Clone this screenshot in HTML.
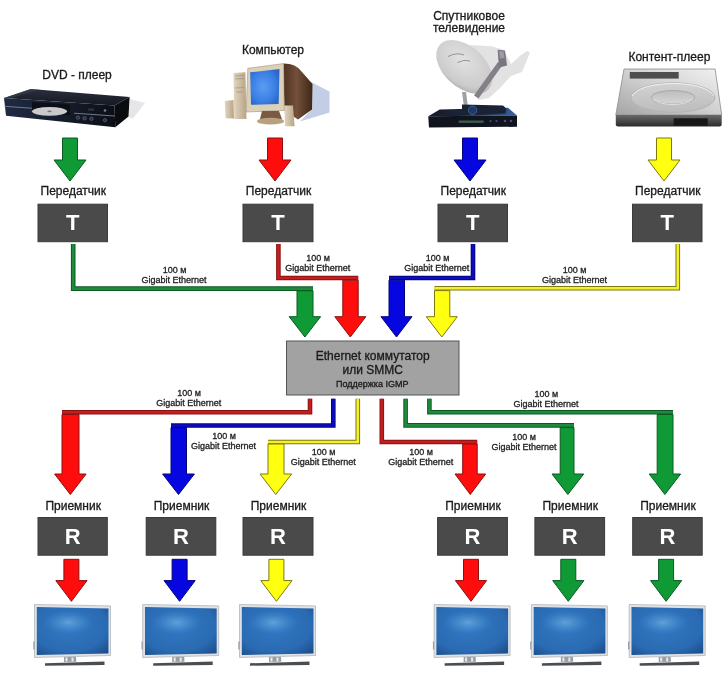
<!DOCTYPE html>
<html><head><meta charset="utf-8"><style>
html,body{margin:0;padding:0;background:#fff;width:725px;height:680px;overflow:hidden}
svg{display:block;font-family:"Liberation Sans", sans-serif;will-change:transform}
</style></head><body>
<svg width="725" height="680" viewBox="0 0 725 680">
<defs>
<radialGradient id="scr" cx="0.45" cy="0.4" r="0.75"><stop offset="0" stop-color="#3179c2"/><stop offset="0.7" stop-color="#2a6bb3"/><stop offset="1" stop-color="#1d4f8c"/></radialGradient>
<radialGradient id="hl"><stop offset="0" stop-color="#6eaae0" stop-opacity="0.8"/><stop offset="0.55" stop-color="#5296d4" stop-opacity="0.45"/><stop offset="1" stop-color="#3a86d0" stop-opacity="0"/></radialGradient>
</defs>
<rect width="725" height="680" fill="#fff"/>
<defs>
<linearGradient id="dvdTop" x1="0" y1="0" x2="0" y2="1"><stop offset="0" stop-color="#2a2f3c"/><stop offset="1" stop-color="#151821"/></linearGradient>
<linearGradient id="dvdFront" x1="0" y1="0" x2="1" y2="0"><stop offset="0" stop-color="#1f2a44"/><stop offset="0.6" stop-color="#141a28"/><stop offset="1" stop-color="#0c0f16"/></linearGradient>
<radialGradient id="scrC" cx="0.45" cy="0.5" r="0.6"><stop offset="0" stop-color="#5c9cf2"/><stop offset="0.7" stop-color="#3a7ee4"/><stop offset="1" stop-color="#2c68cc"/></radialGradient>
<linearGradient id="monBack" x1="0" y1="0" x2="1" y2="0"><stop offset="0" stop-color="#4e3220"/><stop offset="0.45" stop-color="#74503a"/><stop offset="1" stop-color="#3e2818"/></linearGradient>
<linearGradient id="beige" x1="0" y1="0" x2="1" y2="0"><stop offset="0" stop-color="#e2d6c0"/><stop offset="1" stop-color="#b8a486"/></linearGradient>
<radialGradient id="dishG" cx="0.4" cy="0.4" r="0.7"><stop offset="0" stop-color="#e2e2e2"/><stop offset="0.75" stop-color="#cbcbcb"/><stop offset="1" stop-color="#a8a8a8"/></radialGradient>
<linearGradient id="rcvTop" x1="0" y1="0" x2="1" y2="0"><stop offset="0" stop-color="#161b28"/><stop offset="0.6" stop-color="#1e2a44"/><stop offset="1" stop-color="#3a68a8"/></linearGradient>
<linearGradient id="hddTop" x1="1" y1="0" x2="0" y2="1"><stop offset="0" stop-color="#f2f2f2"/><stop offset="0.5" stop-color="#cfcfcf"/><stop offset="1" stop-color="#a4a4a4"/></linearGradient>
<linearGradient id="hddFront" x1="0" y1="0" x2="0" y2="1"><stop offset="0" stop-color="#6a6a6a"/><stop offset="1" stop-color="#2a2a2a"/></linearGradient>
<linearGradient id="platO" x1="0" y1="0" x2="0" y2="1"><stop offset="0" stop-color="#d2d2d2"/><stop offset="1" stop-color="#bcbcbc"/></linearGradient>
<linearGradient id="platI" x1="0" y1="0" x2="0" y2="1"><stop offset="0" stop-color="#bdbdbd"/><stop offset="1" stop-color="#d6d6d6"/></linearGradient>
</defs>
<!-- DVD player -->
<g>
<path d="M129.6,99 L145,103 L133,118.5 L128.5,117 Z" fill="#e6e6e8"/>
<path d="M4,97.9 L30.8,89 L129.6,96.9 L114.5,105.5 Z" fill="url(#dvdTop)"/>
<path d="M4,97.9 L30.8,89 L40,89.7 L10,98.3 Z" fill="#3a4050" opacity="0.6"/>
<path d="M4,97.9 L114.5,105.5 L115.3,127.2 L6,115.8 Z" fill="url(#dvdFront)"/>
<path d="M114.5,105.5 L129.6,96.9 L128.5,116.5 L115.3,127.2 Z" fill="#0b0c10"/>
<path d="M4.5,106.3 L33,108.3" stroke="#7a8294" stroke-width="0.9"/>
<path d="M74,113.2 L114.8,116" stroke="#8a92a4" stroke-width="0.8"/>
<path d="M32,102 L70,104.6 L70,115.5 L32,113 Z" fill="#0c0f16"/>
<ellipse cx="49.5" cy="111.3" rx="17.5" ry="4.4" fill="#cacacc"/>
<ellipse cx="49.5" cy="111.3" rx="2.2" ry="0.9" fill="#7a7a7a"/>
<circle cx="78" cy="117.6" r="1.7" fill="#2a2f3a" stroke="#6a7282" stroke-width="0.6"/>
<circle cx="84.5" cy="118.3" r="1.7" fill="#2a2f3a" stroke="#6a7282" stroke-width="0.6"/>
<circle cx="91.5" cy="118.8" r="1.7" fill="#2a2f3a" stroke="#6a7282" stroke-width="0.6"/>
<circle cx="105" cy="120.2" r="1.7" fill="#2a2f3a" stroke="#6a7282" stroke-width="0.6"/>
<circle cx="105" cy="110.5" r="1.3" fill="#7a808a"/>
<rect x="88" y="108.5" width="6" height="2.2" fill="#2e3440"/>
</g>
<!-- Computer -->
<g>
<path d="M311,82 L329.5,91.5 L329.5,112.5 L300,121.5 L311,110 Z" fill="#c4cde6"/>
<path d="M283.5,63.6 Q296,63.5 302,72 L312.5,84 L312,109.5 L298,119.5 L284.3,110.4 Z" fill="url(#monBack)"/>
<path d="M247.8,68.3 L283.5,63.6 L284.3,110.4 L246.2,112 Z" fill="#dbd0b8" stroke="#a89478" stroke-width="0.6"/>
<path d="M250.2,72.3 L279.5,69.1 L278.7,104 L251,104.8 Z" fill="url(#scrC)"/>
<path d="M233.5,73 L245.4,72.3 L246.5,119 L234.3,119 Z" fill="url(#beige)"/>
<path d="M235,76 L244,75.5 M235,79 L244,78.5 M235,88 L244,87.5 M236,92 L243,92" stroke="#9a8a70" stroke-width="0.6"/>
<path d="M262,111 L279,111 L282,119 L260,119 Z" fill="#7a5a40"/>
<ellipse cx="270.5" cy="121.2" rx="13.5" ry="3.4" fill="#b8a080"/>
<path d="M224.8,100.9 L233.5,100 L234,118.5 L225.5,118.3 Z" fill="url(#beige)"/>
<path d="M284.3,105.6 L293,105.6 L294.6,126.3 L285,126.3 Z" fill="url(#beige)"/>
</g>
<!-- Satellite -->
<g>
<path d="M470,45 L492,46.3 L504,50 L511,64 L521,55 L527,51 L530,52.5 L527,60 L522,72 L511,76 L500,88 L489,98 L478,100 Z" fill="#e2e2e2"/>
<path d="M462,92 L466,92 L468,107 L464,107 Z" fill="#a0a0a0"/>
<ellipse cx="464.3" cy="66.8" rx="33" ry="20.5" transform="rotate(42 464.3 66.8)" fill="url(#dishG)"/>
<path d="M448,56.5 Q457,52 464,55" stroke="#8a8a8a" stroke-width="0.9" fill="none"/>
<path d="M457.5,62.5 Q464,59 470,61" stroke="#8a8a8a" stroke-width="0.9" fill="none"/>
<path d="M474,95.5 L498,62 L502.5,65 L478.5,98.5 Z" fill="#858088"/>
<path d="M497.6,49.7 L505,50.6 L507,65.6 L499,67.6 Z" fill="#7a7580"/>
<path d="M499,51 L503.5,51.6 L504.5,58 L500,58.5 Z" fill="#a09aa6"/>
<path d="M439.7,109.4 L508,107.8 L517,115.4 L428.3,116.2 Z" fill="url(#rcvTop)"/>
<path d="M428.3,116.2 L517,115.4 L517,126.8 L429,127.6 Z" fill="#10141f"/>
<path d="M462,104.5 L503,105.5 Q508,108.5 505.5,113.5 L462,115 Z" fill="#1a2234"/>
<ellipse cx="472.6" cy="110.3" rx="4.2" ry="4.2" fill="#22385e" stroke="#3a6ab0" stroke-width="0.8"/>
<rect x="458.7" y="120.5" width="25" height="2.4" fill="#3e5a4a"/>
<circle cx="490.5" cy="121" r="1.1" fill="#4a5070"/><circle cx="496.5" cy="121" r="1.1" fill="#4a5070"/>
<circle cx="505" cy="121" r="1.3" fill="#4a5070"/><circle cx="511" cy="121" r="1.3" fill="#4a5070"/>
</g>
<!-- HDD -->
<g>
<path d="M624,69 L715.1,69 L721.7,115 L615.8,115 Z" fill="url(#hddTop)" stroke="#8c8c8c" stroke-width="0.8"/>
<path d="M615.8,115 L721.7,115 L721.7,124.5 Q721.7,126.6 719.5,126.6 L618,126.6 Q615.8,126.6 615.8,124.5 Z" fill="url(#hddFront)"/>
<rect x="673.7" y="118.3" width="34" height="7.4" fill="#181818"/>
<rect x="629.8" y="72" width="48.9" height="6.6" fill="#4e4e4e"/>
<ellipse cx="673" cy="97.6" rx="42" ry="14.8" fill="url(#platO)" stroke="#b4b4b4" stroke-width="1"/>
<path d="M632,96 Q640,84 673,83.5 Q706,84 714,96" fill="none" stroke="#f2f2f2" stroke-width="1"/>
<ellipse cx="673" cy="97.3" rx="21.5" ry="6.8" fill="url(#platI)" stroke="#a8a8a8" stroke-width="1"/>
<path d="M653,99 Q660,104.5 673,104.5 Q686,104.5 693,99" fill="none" stroke="#ececec" stroke-width="0.8"/>
</g>

<text x="73.25" y="195.2" font-size="12" font-weight="normal" fill="#1a1a1a" stroke="#1a1a1a" stroke-width="0.3" text-anchor="middle">Передатчик</text>
<rect x="38" y="204.2" width="69.5" height="37.5" fill="#4a4a4a" stroke="#3a3a3a" stroke-width="1"/>
<text x="72.75" y="230.39999999999998" font-size="22" font-weight="bold" fill="#ffffff" text-anchor="middle">T</text>
<path d="M62.5,138 L77.5,138 L77.5,160 L86,160 L70.0,181 L54,160 L62.5,160 Z" fill="#0f9a35" stroke="#0a5a22" stroke-width="1" stroke-linejoin="miter"/>
<text x="278.5" y="195.2" font-size="12" font-weight="normal" fill="#1a1a1a" stroke="#1a1a1a" stroke-width="0.3" text-anchor="middle">Передатчик</text>
<rect x="243" y="204.2" width="70" height="37.5" fill="#4a4a4a" stroke="#3a3a3a" stroke-width="1"/>
<text x="278.0" y="230.39999999999998" font-size="22" font-weight="bold" fill="#ffffff" text-anchor="middle">T</text>
<path d="M267.5,138 L282.5,138 L282.5,160 L291,160 L275.0,181 L259,160 L267.5,160 Z" fill="#ff0c0c" stroke="#8a1212" stroke-width="1" stroke-linejoin="miter"/>
<text x="473.25" y="195.2" font-size="12" font-weight="normal" fill="#1a1a1a" stroke="#1a1a1a" stroke-width="0.3" text-anchor="middle">Передатчик</text>
<rect x="438" y="204.2" width="69.5" height="37.5" fill="#4a4a4a" stroke="#3a3a3a" stroke-width="1"/>
<text x="472.75" y="230.39999999999998" font-size="22" font-weight="bold" fill="#ffffff" text-anchor="middle">T</text>
<path d="M462.5,138 L477.5,138 L477.5,160 L486,160 L470.0,181 L454,160 L462.5,160 Z" fill="#0606e0" stroke="#05057a" stroke-width="1" stroke-linejoin="miter"/>
<text x="667.75" y="195.2" font-size="12" font-weight="normal" fill="#1a1a1a" stroke="#1a1a1a" stroke-width="0.3" text-anchor="middle">Передатчик</text>
<rect x="632.5" y="204.2" width="69.5" height="37.5" fill="#4a4a4a" stroke="#3a3a3a" stroke-width="1"/>
<text x="667.25" y="230.39999999999998" font-size="22" font-weight="bold" fill="#ffffff" text-anchor="middle">T</text>
<path d="M656.5,138 L671.5,138 L671.5,160 L680,160 L664.0,181 L648,160 L656.5,160 Z" fill="#ffff10" stroke="#7c7a10" stroke-width="1" stroke-linejoin="miter"/>
<path d="M73.2,244 L73.2,288.6 L313,288.6" fill="none" stroke="#0a5a22" stroke-width="4.6" stroke-linejoin="miter" stroke-linecap="butt"/>
<path d="M73.2,244 L73.2,288.6 L313,288.6" fill="none" stroke="#1f8a3c" stroke-width="2.5999999999999996" stroke-linejoin="miter" stroke-linecap="butt"/>
<path d="M278.4,244 L278.4,278 L358.2,278" fill="none" stroke="#8a1212" stroke-width="4.6" stroke-linejoin="miter" stroke-linecap="butt"/>
<path d="M278.4,244 L278.4,278 L358.2,278" fill="none" stroke="#c41e1e" stroke-width="2.5999999999999996" stroke-linejoin="miter" stroke-linecap="butt"/>
<path d="M473,244 L473,278 L389,278" fill="none" stroke="#05057a" stroke-width="4.6" stroke-linejoin="miter" stroke-linecap="butt"/>
<path d="M473,244 L473,278 L389,278" fill="none" stroke="#0c0cc0" stroke-width="2.5999999999999996" stroke-linejoin="miter" stroke-linecap="butt"/>
<path d="M677.8,244 L677.8,288.3 L434.5,288.3" fill="none" stroke="#7c7a10" stroke-width="4.6" stroke-linejoin="miter" stroke-linecap="butt"/>
<path d="M677.8,244 L677.8,288.3 L434.5,288.3" fill="none" stroke="#f4f030" stroke-width="2.5999999999999996" stroke-linejoin="miter" stroke-linecap="butt"/>
<path d="M297,290.8 L313,290.8 L313,316.7 L320.6,316.7 L304.9,337 L289.2,316.7 L297,316.7 Z" fill="#0f9a35" stroke="#0a5a22" stroke-width="1" stroke-linejoin="miter"/>
<path d="M342.8,280.2 L358.2,280.2 L358.2,316.7 L365.8,316.7 L350.3,337 L334.8,316.7 L342.8,316.7 Z" fill="#ff0c0c" stroke="#8a1212" stroke-width="1" stroke-linejoin="miter"/>
<path d="M389,280.2 L404.5,280.2 L404.5,316.7 L412,316.7 L396.5,337 L381,316.7 L389,316.7 Z" fill="#0606e0" stroke="#05057a" stroke-width="1" stroke-linejoin="miter"/>
<path d="M434.5,290.6 L449.8,290.6 L449.8,316.7 L457.3,316.7 L441.8,337 L426.3,316.7 L434.5,316.7 Z" fill="#ffff10" stroke="#7c7a10" stroke-width="1" stroke-linejoin="miter"/>
<text x="174.5" y="273" font-size="9" font-weight="normal" fill="#222" stroke="#222" stroke-width="0.3" text-anchor="middle">100 м</text>
<text x="174" y="283" font-size="9" font-weight="normal" fill="#222" stroke="#222" stroke-width="0.3" text-anchor="middle">Gigabit Ethernet</text>
<text x="318" y="260.5" font-size="9" font-weight="normal" fill="#222" stroke="#222" stroke-width="0.3" text-anchor="middle">100 м</text>
<text x="317.7" y="270.5" font-size="9" font-weight="normal" fill="#222" stroke="#222" stroke-width="0.3" text-anchor="middle">Gigabit Ethernet</text>
<text x="437.5" y="260.5" font-size="9" font-weight="normal" fill="#222" stroke="#222" stroke-width="0.3" text-anchor="middle">100 м</text>
<text x="436.7" y="270.5" font-size="9" font-weight="normal" fill="#222" stroke="#222" stroke-width="0.3" text-anchor="middle">Gigabit Ethernet</text>
<text x="574.6" y="273" font-size="9" font-weight="normal" fill="#222" stroke="#222" stroke-width="0.3" text-anchor="middle">100 м</text>
<text x="574.6" y="283" font-size="9" font-weight="normal" fill="#222" stroke="#222" stroke-width="0.3" text-anchor="middle">Gigabit Ethernet</text>
<rect x="286.5" y="341" width="172.5" height="54" fill="#a2a2a2" stroke="#555" stroke-width="1"/>
<text x="372.7" y="360" font-size="12" font-weight="normal" fill="#1a1a1a" stroke="#1a1a1a" stroke-width="0.3" text-anchor="middle">Ethernet коммутатор</text>
<text x="372.7" y="373.5" font-size="12" font-weight="normal" fill="#1a1a1a" stroke="#1a1a1a" stroke-width="0.3" text-anchor="middle">или SMMC</text>
<text x="372.2" y="386.8" font-size="9" font-weight="normal" fill="#1a1a1a" stroke="#1a1a1a" stroke-width="0.3" text-anchor="middle">Поддержка IGMP</text>
<path d="M310,398.7 L310,412.3 L62,412.3" fill="none" stroke="#8a1212" stroke-width="4.6" stroke-linejoin="miter" stroke-linecap="butt"/>
<path d="M310,398.7 L310,412.3 L62,412.3" fill="none" stroke="#c41e1e" stroke-width="2.5999999999999996" stroke-linejoin="miter" stroke-linecap="butt"/>
<path d="M333.3,398.7 L333.3,425.5 L171,425.5" fill="none" stroke="#05057a" stroke-width="4.6" stroke-linejoin="miter" stroke-linecap="butt"/>
<path d="M333.3,398.7 L333.3,425.5 L171,425.5" fill="none" stroke="#0c0cc0" stroke-width="2.5999999999999996" stroke-linejoin="miter" stroke-linecap="butt"/>
<path d="M357.8,398.7 L357.8,442 L268,442" fill="none" stroke="#7c7a10" stroke-width="4.6" stroke-linejoin="miter" stroke-linecap="butt"/>
<path d="M357.8,398.7 L357.8,442 L268,442" fill="none" stroke="#f4f030" stroke-width="2.5999999999999996" stroke-linejoin="miter" stroke-linecap="butt"/>
<path d="M381.8,398.7 L381.8,442 L477.2,442" fill="none" stroke="#8a1212" stroke-width="4.6" stroke-linejoin="miter" stroke-linecap="butt"/>
<path d="M381.8,398.7 L381.8,442 L477.2,442" fill="none" stroke="#c41e1e" stroke-width="2.5999999999999996" stroke-linejoin="miter" stroke-linecap="butt"/>
<path d="M405.6,398.7 L405.6,425.4 L574,425.4" fill="none" stroke="#0a5a22" stroke-width="4.6" stroke-linejoin="miter" stroke-linecap="butt"/>
<path d="M405.6,398.7 L405.6,425.4 L574,425.4" fill="none" stroke="#1f8a3c" stroke-width="2.5999999999999996" stroke-linejoin="miter" stroke-linecap="butt"/>
<path d="M429.4,398.7 L429.4,412.3 L673,412.3" fill="none" stroke="#0a5a22" stroke-width="4.6" stroke-linejoin="miter" stroke-linecap="butt"/>
<path d="M429.4,398.7 L429.4,412.3 L673,412.3" fill="none" stroke="#1f8a3c" stroke-width="2.5999999999999996" stroke-linejoin="miter" stroke-linecap="butt"/>
<path d="M62,414.5 L79,414.5 L79,474 L86.1,474 L70.35,494.5 L54.6,474 L62,474 Z" fill="#ff0c0c" stroke="#8a1212" stroke-width="1" stroke-linejoin="miter"/>
<path d="M171,427.6 L186.5,427.6 L186.5,474 L194.4,474 L178.5,494.5 L162.6,474 L171,474 Z" fill="#0606e0" stroke="#05057a" stroke-width="1" stroke-linejoin="miter"/>
<path d="M268,444 L284,444 L284,474 L291.6,474 L275.8,494.5 L260,474 L268,474 Z" fill="#ffff10" stroke="#7c7a10" stroke-width="1" stroke-linejoin="miter"/>
<path d="M462.7,444 L477.2,444 L477.2,474 L485.6,474 L470.3,494.5 L455,474 L462.7,474 Z" fill="#ff0c0c" stroke="#8a1212" stroke-width="1" stroke-linejoin="miter"/>
<path d="M560.2,427.6 L574,427.6 L574,474 L583.7,474 L567.85,494.5 L552,474 L560.2,474 Z" fill="#0f9a35" stroke="#0a5a22" stroke-width="1" stroke-linejoin="miter"/>
<path d="M657.2,414.5 L673,414.5 L673,474 L680.6,474 L664.9000000000001,494.5 L649.2,474 L657.2,474 Z" fill="#0f9a35" stroke="#0a5a22" stroke-width="1" stroke-linejoin="miter"/>
<text x="189" y="395.5" font-size="9" font-weight="normal" fill="#222" stroke="#222" stroke-width="0.3" text-anchor="middle">100 м</text>
<text x="188.7" y="405.5" font-size="9" font-weight="normal" fill="#222" stroke="#222" stroke-width="0.3" text-anchor="middle">Gigabit Ethernet</text>
<text x="224" y="439.2" font-size="9" font-weight="normal" fill="#222" stroke="#222" stroke-width="0.3" text-anchor="middle">100 м</text>
<text x="223.4" y="449.2" font-size="9" font-weight="normal" fill="#222" stroke="#222" stroke-width="0.3" text-anchor="middle">Gigabit Ethernet</text>
<text x="323.7" y="455" font-size="9" font-weight="normal" fill="#222" stroke="#222" stroke-width="0.3" text-anchor="middle">100 м</text>
<text x="323.3" y="465" font-size="9" font-weight="normal" fill="#222" stroke="#222" stroke-width="0.3" text-anchor="middle">Gigabit Ethernet</text>
<text x="421.2" y="455" font-size="9" font-weight="normal" fill="#222" stroke="#222" stroke-width="0.3" text-anchor="middle">100 м</text>
<text x="420.7" y="465" font-size="9" font-weight="normal" fill="#222" stroke="#222" stroke-width="0.3" text-anchor="middle">Gigabit Ethernet</text>
<text x="524" y="440.3" font-size="9" font-weight="normal" fill="#222" stroke="#222" stroke-width="0.3" text-anchor="middle">100 м</text>
<text x="524" y="450.3" font-size="9" font-weight="normal" fill="#222" stroke="#222" stroke-width="0.3" text-anchor="middle">Gigabit Ethernet</text>
<text x="546.4" y="396.8" font-size="9" font-weight="normal" fill="#222" stroke="#222" stroke-width="0.3" text-anchor="middle">100 м</text>
<text x="546" y="406.8" font-size="9" font-weight="normal" fill="#222" stroke="#222" stroke-width="0.3" text-anchor="middle">Gigabit Ethernet</text>
<text x="73.15" y="509.8" font-size="12" font-weight="normal" fill="#1a1a1a" stroke="#1a1a1a" stroke-width="0.3" text-anchor="middle">Приемник</text>
<rect x="38" y="517.5" width="69.3" height="37.700000000000045" fill="#4a4a4a" stroke="#3a3a3a" stroke-width="1"/>
<text x="72.65" y="543.7" font-size="22" font-weight="bold" fill="#ffffff" text-anchor="middle">R</text>
<path d="M63.900000000000006,559.3 L78.9,559.3 L78.9,580.6 L87.0,580.6 L71.4,601.3 L55.800000000000004,580.6 L63.900000000000006,580.6 Z" fill="#ff0c0c" stroke="#8a1212" stroke-width="1" stroke-linejoin="miter"/>
<g transform="translate(34.5,604.5)"><path d="M0,0 L76,1.4 L76,51 L0,53 Z" fill="#dfe2e6" stroke="#a8adb3" stroke-width="0.7"/><path d="M2.3,2.4 L74,3.9 L74,48.9 L2.3,50.6 Z" fill="url(#scr)"/><ellipse cx="34" cy="18" rx="25" ry="12" fill="url(#hl)"/><rect x="-1.2" y="37" width="1.3" height="8" fill="#9aa0a6"/><path d="M29.5,52.6 L41.5,52.3 L41.8,57.2 L29.5,57.4 Z" fill="#9a9fa5"/><path d="M31,53 L33,53 L33,57 L31,57 Z M37,53 L39,53 L39,57 L37,57 Z" fill="#e8eaec"/><path d="M10.5,58.8 L70,57 L70,60.4 L10.5,61.2 Z" fill="#4a4e52"/></g>
<text x="181.5" y="509.8" font-size="12" font-weight="normal" fill="#1a1a1a" stroke="#1a1a1a" stroke-width="0.3" text-anchor="middle">Приемник</text>
<rect x="146.2" y="517.5" width="69.60000000000002" height="37.700000000000045" fill="#4a4a4a" stroke="#3a3a3a" stroke-width="1"/>
<text x="181.0" y="543.7" font-size="22" font-weight="bold" fill="#ffffff" text-anchor="middle">R</text>
<path d="M172.1,559.3 L187.1,559.3 L187.1,580.6 L195.2,580.6 L179.6,601.3 L164.0,580.6 L172.1,580.6 Z" fill="#0606e0" stroke="#05057a" stroke-width="1" stroke-linejoin="miter"/>
<g transform="translate(142.7,604.5)"><path d="M0,0 L76,1.4 L76,51 L0,53 Z" fill="#dfe2e6" stroke="#a8adb3" stroke-width="0.7"/><path d="M2.3,2.4 L74,3.9 L74,48.9 L2.3,50.6 Z" fill="url(#scr)"/><ellipse cx="34" cy="18" rx="25" ry="12" fill="url(#hl)"/><rect x="-1.2" y="37" width="1.3" height="8" fill="#9aa0a6"/><path d="M29.5,52.6 L41.5,52.3 L41.8,57.2 L29.5,57.4 Z" fill="#9a9fa5"/><path d="M31,53 L33,53 L33,57 L31,57 Z M37,53 L39,53 L39,57 L37,57 Z" fill="#e8eaec"/><path d="M10.5,58.8 L70,57 L70,60.4 L10.5,61.2 Z" fill="#4a4e52"/></g>
<text x="278.5" y="509.8" font-size="12" font-weight="normal" fill="#1a1a1a" stroke="#1a1a1a" stroke-width="0.3" text-anchor="middle">Приемник</text>
<rect x="243" y="517.5" width="70" height="37.700000000000045" fill="#4a4a4a" stroke="#3a3a3a" stroke-width="1"/>
<text x="278.0" y="543.7" font-size="22" font-weight="bold" fill="#ffffff" text-anchor="middle">R</text>
<path d="M268.9,559.3 L283.9,559.3 L283.9,580.6 L292.0,580.6 L276.4,601.3 L260.79999999999995,580.6 L268.9,580.6 Z" fill="#ffff10" stroke="#7c7a10" stroke-width="1" stroke-linejoin="miter"/>
<g transform="translate(239.5,604.5)"><path d="M0,0 L76,1.4 L76,51 L0,53 Z" fill="#dfe2e6" stroke="#a8adb3" stroke-width="0.7"/><path d="M2.3,2.4 L74,3.9 L74,48.9 L2.3,50.6 Z" fill="url(#scr)"/><ellipse cx="34" cy="18" rx="25" ry="12" fill="url(#hl)"/><rect x="-1.2" y="37" width="1.3" height="8" fill="#9aa0a6"/><path d="M29.5,52.6 L41.5,52.3 L41.8,57.2 L29.5,57.4 Z" fill="#9a9fa5"/><path d="M31,53 L33,53 L33,57 L31,57 Z M37,53 L39,53 L39,57 L37,57 Z" fill="#e8eaec"/><path d="M10.5,58.8 L70,57 L70,60.4 L10.5,61.2 Z" fill="#4a4e52"/></g>
<text x="473.0" y="509.8" font-size="12" font-weight="normal" fill="#1a1a1a" stroke="#1a1a1a" stroke-width="0.3" text-anchor="middle">Приемник</text>
<rect x="437.6" y="517.5" width="69.79999999999995" height="37.700000000000045" fill="#4a4a4a" stroke="#3a3a3a" stroke-width="1"/>
<text x="472.5" y="543.7" font-size="22" font-weight="bold" fill="#ffffff" text-anchor="middle">R</text>
<path d="M463.5,559.3 L478.5,559.3 L478.5,580.6 L486.6,580.6 L471.0,601.3 L455.4,580.6 L463.5,580.6 Z" fill="#ff0c0c" stroke="#8a1212" stroke-width="1" stroke-linejoin="miter"/>
<g transform="translate(434.1,604.5)"><path d="M0,0 L76,1.4 L76,51 L0,53 Z" fill="#dfe2e6" stroke="#a8adb3" stroke-width="0.7"/><path d="M2.3,2.4 L74,3.9 L74,48.9 L2.3,50.6 Z" fill="url(#scr)"/><ellipse cx="34" cy="18" rx="25" ry="12" fill="url(#hl)"/><rect x="-1.2" y="37" width="1.3" height="8" fill="#9aa0a6"/><path d="M29.5,52.6 L41.5,52.3 L41.8,57.2 L29.5,57.4 Z" fill="#9a9fa5"/><path d="M31,53 L33,53 L33,57 L31,57 Z M37,53 L39,53 L39,57 L37,57 Z" fill="#e8eaec"/><path d="M10.5,58.8 L70,57 L70,60.4 L10.5,61.2 Z" fill="#4a4e52"/></g>
<text x="570.25" y="509.8" font-size="12" font-weight="normal" fill="#1a1a1a" stroke="#1a1a1a" stroke-width="0.3" text-anchor="middle">Приемник</text>
<rect x="534.9" y="517.5" width="69.70000000000005" height="37.700000000000045" fill="#4a4a4a" stroke="#3a3a3a" stroke-width="1"/>
<text x="569.75" y="543.7" font-size="22" font-weight="bold" fill="#ffffff" text-anchor="middle">R</text>
<path d="M560.8,559.3 L575.8,559.3 L575.8,580.6 L583.9,580.6 L568.3,601.3 L552.6999999999999,580.6 L560.8,580.6 Z" fill="#0f9a35" stroke="#0a5a22" stroke-width="1" stroke-linejoin="miter"/>
<g transform="translate(531.4,604.5)"><path d="M0,0 L76,1.4 L76,51 L0,53 Z" fill="#dfe2e6" stroke="#a8adb3" stroke-width="0.7"/><path d="M2.3,2.4 L74,3.9 L74,48.9 L2.3,50.6 Z" fill="url(#scr)"/><ellipse cx="34" cy="18" rx="25" ry="12" fill="url(#hl)"/><rect x="-1.2" y="37" width="1.3" height="8" fill="#9aa0a6"/><path d="M29.5,52.6 L41.5,52.3 L41.8,57.2 L29.5,57.4 Z" fill="#9a9fa5"/><path d="M31,53 L33,53 L33,57 L31,57 Z M37,53 L39,53 L39,57 L37,57 Z" fill="#e8eaec"/><path d="M10.5,58.8 L70,57 L70,60.4 L10.5,61.2 Z" fill="#4a4e52"/></g>
<text x="667.95" y="509.8" font-size="12" font-weight="normal" fill="#1a1a1a" stroke="#1a1a1a" stroke-width="0.3" text-anchor="middle">Приемник</text>
<rect x="632.7" y="517.5" width="69.5" height="37.700000000000045" fill="#4a4a4a" stroke="#3a3a3a" stroke-width="1"/>
<text x="667.45" y="543.7" font-size="22" font-weight="bold" fill="#ffffff" text-anchor="middle">R</text>
<path d="M658.6,559.3 L673.6,559.3 L673.6,580.6 L681.7,580.6 L666.1,601.3 L650.5,580.6 L658.6,580.6 Z" fill="#0f9a35" stroke="#0a5a22" stroke-width="1" stroke-linejoin="miter"/>
<g transform="translate(629.2,604.5)"><path d="M0,0 L76,1.4 L76,51 L0,53 Z" fill="#dfe2e6" stroke="#a8adb3" stroke-width="0.7"/><path d="M2.3,2.4 L74,3.9 L74,48.9 L2.3,50.6 Z" fill="url(#scr)"/><ellipse cx="34" cy="18" rx="25" ry="12" fill="url(#hl)"/><rect x="-1.2" y="37" width="1.3" height="8" fill="#9aa0a6"/><path d="M29.5,52.6 L41.5,52.3 L41.8,57.2 L29.5,57.4 Z" fill="#9a9fa5"/><path d="M31,53 L33,53 L33,57 L31,57 Z M37,53 L39,53 L39,57 L37,57 Z" fill="#e8eaec"/><path d="M10.5,58.8 L70,57 L70,60.4 L10.5,61.2 Z" fill="#4a4e52"/></g>
<text x="77" y="79" font-size="12" font-weight="normal" fill="#1a1a1a" stroke="#1a1a1a" stroke-width="0.3" text-anchor="middle">DVD - плеер</text>
<text x="273" y="53.8" font-size="12" font-weight="normal" fill="#1a1a1a" stroke="#1a1a1a" stroke-width="0.3" text-anchor="middle">Компьютер</text>
<text x="469" y="19.8" font-size="12" font-weight="normal" fill="#1a1a1a" stroke="#1a1a1a" stroke-width="0.3" text-anchor="middle">Спутниковое</text>
<text x="469" y="31.8" font-size="12" font-weight="normal" fill="#1a1a1a" stroke="#1a1a1a" stroke-width="0.3" text-anchor="middle">телевидение</text>
<text x="669.4" y="60.5" font-size="12" font-weight="normal" fill="#1a1a1a" stroke="#1a1a1a" stroke-width="0.3" text-anchor="middle">Контент-плеер</text>
</svg>
</body></html>
